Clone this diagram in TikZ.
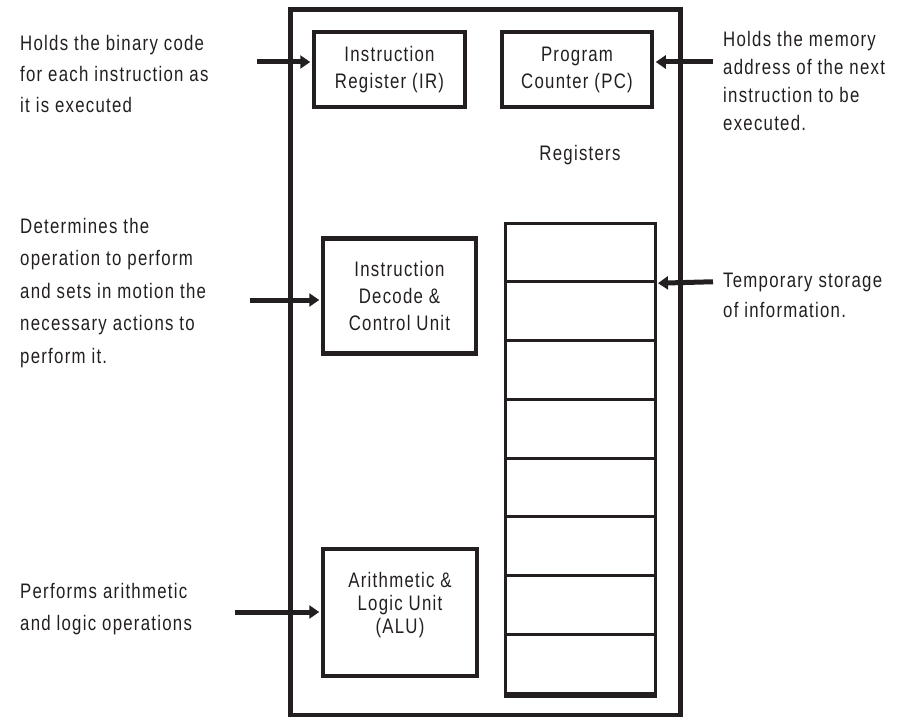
\documentclass[tikz,border=0pt]{standalone}
\usepackage{fontspec}
\setmainfont{Liberation Sans}[FakeStretch=0.8,LetterSpace=6]
\usetikzlibrary{arrows.meta}
\definecolor{ink}{RGB}{35,31,32}
\begin{document}
\begin{tikzpicture}[x=1pt,y=-1pt,
  every node/.style={text=ink},
  frame/.style={draw=ink, line width=5pt, minimum width=390pt, minimum height=705pt, inner sep=0pt},
  unitbox/.style={draw=ink, line width=4.5pt, align=center, inner sep=0pt,
                  font=\fontsize{21}{27}\selectfont},
  cell/.style={draw=ink, line width=3pt, minimum width=150pt, minimum height=58.75pt, inner sep=0pt},
  note/.style={anchor=north west, align=left, inner sep=0pt},
  feed/.style={draw=ink, line width=5pt, shorten >=1.5pt,
               -{Triangle[length=10pt,width=13pt]}}]
\useasboundingbox (0,0) rectangle (905,717);

% CPU outline
\node[frame] (cpu) at (485,362.5) {};

% functional units
\node[unitbox, minimum width=151pt, minimum height=75pt] (IR) at (389.5,69.5)
  {Instruction\\Register (IR)};
\node[unitbox, minimum width=150pt, minimum height=75pt] (PC) at (577,69.5)
  {Program\\Counter (PC)};
\node[unitbox, minimum width=153pt, minimum height=115pt] (ID) at (399.5,296)
  {Instruction\\Decode \&\\Control Unit};
\node[unitbox, minimum width=154pt, minimum height=127pt,
      font=\fontsize{21}{23}\selectfont] (ALU) at (400,612.5)
  {Arithmetic \&\\Logic Unit\\(ALU)\\[-4pt]};

% register file
\node[anchor=base, font=\fontsize{21}{24}\selectfont] (reglabel) at (580,160) {Registers};
\foreach \i in {1,...,8}
  \node[cell] (cell\i) at (580,{223+58.75*(\i-0.5)}) {};
\draw[ink, line width=6pt] (cell8.south west) -- (cell8.south east);

% explanatory notes
\node[note, font=\fontsize{21}{31}\selectfont] (noteIR) at (20,34.7)
  {Holds the binary code\\for each instruction as\\it is executed};
\node[note, font=\fontsize{21}{32.5}\selectfont] (noteID) at (20,217.7)
  {Determines the\\operation to perform\\and sets in motion the\\necessary actions to\\perform it.};
\node[note, font=\fontsize{21}{32}\selectfont] (noteALU) at (20,582.7)
  {Performs arithmetic\\and logic operations};
\node[note, font=\fontsize{21}{28}\selectfont] (notePC) at (723,31.5)
  {Holds the memory\\address of the next\\instruction to be\\executed.};
\node[note, font=\fontsize{21}{30}\selectfont] (noteReg) at (723,272.7)
  {Temporary storage\\of information.};

% pointers into the units
\coordinate (srcIR) at (257,62);
\coordinate (srcPC) at (713,62);
\coordinate (srcID) at (250,300);
\coordinate (srcALU) at (235,612);
\coordinate (srcReg) at (713,281.75);
\draw[feed] (srcIR) -- (srcIR -| IR.west);
\draw[feed] (srcPC) -- (srcPC -| PC.east);
\draw[feed] (srcID) -- (srcID -| ID.west);
\draw[feed] (srcALU) -- (srcALU -| ALU.west);
\draw[feed] (srcReg) -- (cell1.south east);
\end{tikzpicture}
\end{document}
